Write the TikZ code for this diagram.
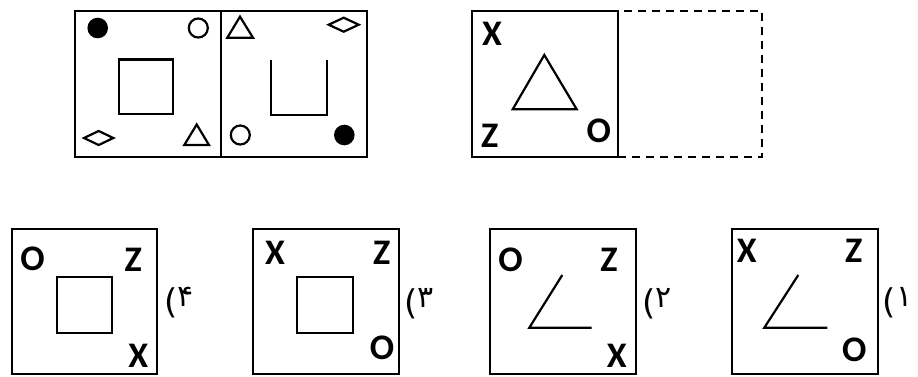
\documentclass[tikz,border=0pt]{standalone}
\usepackage{fontspec}
\newfontfamily\latf{Carlito}
\newfontfamily\digf{DejaVu Sans}
\newcommand{\optlab}[1]{{\digf\fontsize{34}{34}\selectfont(\raisebox{7pt}{\fontsize{30}{30}\selectfont #1}}}
\begin{document}
\begin{tikzpicture}[x=1pt,y=-1pt,
  frame/.style={line width=2.2pt, line join=miter},
  fig/.style={line width=2.2pt, line join=miter},
  lett/.style={font=\latf\bfseries\fontsize{36}{36}\selectfont, inner sep=0pt, anchor=center},
  lab/.style={inner sep=0pt, anchor=base west}]
\useasboundingbox (0,0) rectangle (918,376);

% ---------- top left double panel ----------
\draw[frame] (75,11) rectangle (367,157);
\draw[frame] (221,11) -- (221,157);
% left half
\fill (97.7,28) circle[radius=10.3pt];
\draw[fig] (198.3,28) circle[radius=9.5pt];
\draw[fig] (119,59.5) rectangle (173.3,114.3);
\draw[fig] (84,138) -- (98.7,131) -- (113.3,138) -- (98.7,145) -- cycle;
\draw[fig] (196.7,124.5) -- (209,145) -- (184.3,145) -- cycle;
% right half
\draw[fig] (240,16.7) -- (253,37.7) -- (227.3,37.7) -- cycle;
\draw[fig] (328.7,24.7) -- (343.7,17.7) -- (358.7,24.7) -- (343.7,31.7) -- cycle;
\draw[fig] (271,60) -- (271,115) -- (326.7,115) -- (326.7,60);
\draw[fig] (240.3,135) circle[radius=9.5pt];
\fill (344.3,135) circle[radius=10.3pt];

% ---------- top right: given panel and blank ----------
\draw[frame] (472,11) rectangle (618,157);
\draw[frame, dash pattern=on 8pt off 6pt] (618,157) -- (762,157) -- (762,11) -- (618,11);
\draw[fig] (544.3,55) -- (576.7,109.3) -- (512.7,109.3) -- cycle;
\node[lett] (tX) at (492,33.8) {X};
\node[lett] (tZ) at (489.7,135.8) {Z};
\node[lett] (tO) at (598.7,130.8) {O};

% ---------- option 4 ----------
\draw[frame] (11.7,229.3) rectangle (157,374);
\draw[fig] (56.7,276.7) rectangle (112,332.7);
\node[lett] (a4O) at (32.5,258.8) {O};
\node[lett] (a4Z) at (133.3,260.3) {Z};
\node[lett] (a4X) at (138.3,355.8) {X};
\node[lab] (l4) at (164,313) {\optlab{۴}};

% ---------- option 3 ----------
\draw[frame] (253,229.3) rectangle (399,374);
\draw[fig] (297.3,277.3) rectangle (353.3,332.7);
\node[lett] (a3X) at (275,252.5) {X};
\node[lett] (a3Z) at (381.7,253) {Z};
\node[lett] (a3O) at (382,348.3) {O};
\node[lab] (l3) at (404.5,314) {\optlab{۳}};

% ---------- option 2 ----------
\draw[frame] (490,229.3) rectangle (636,374);
\draw[fig] (562.3,275) -- (529.3,327.7) -- (591.7,327.7);
\node[lett] (a2O) at (510.5,259.7) {O};
\node[lett] (a2Z) at (609,260.3) {Z};
\node[lett] (a2X) at (616.7,355.8) {X};
\node[lab] (l2) at (642,314) {\optlab{۲}};

% ---------- option 1 ----------
\draw[frame] (732,229.3) rectangle (878,374);
\draw[fig] (798.3,275) -- (764.3,327.7) -- (827.3,327.7);
\node[lett] (a1X) at (746.7,250.8) {X};
\node[lett] (a1Z) at (853.8,250.8) {Z};
\node[lett] (a1O) at (854.2,350) {O};
\node[lab] (l1) at (882.7,313) {\optlab{۱}};
\end{tikzpicture}
\end{document}
